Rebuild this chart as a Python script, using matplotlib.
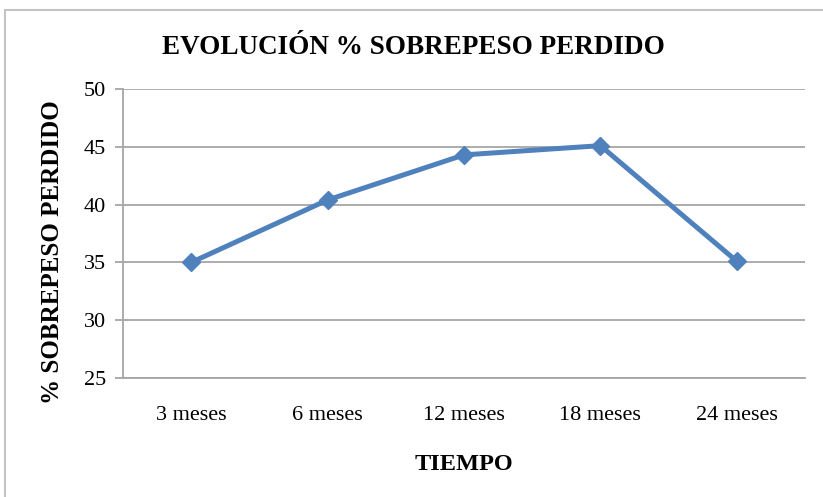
import matplotlib.pyplot as plt
import matplotlib.patches as patches

periodos = ['3 meses', '6 meses', '12 meses', '18 meses', '24 meses']
sobrepeso_perdido = [35.0, 40.4, 44.3, 45.1, 35.1]
y_ticks = [25, 30, 35, 40, 45, 50]

plt.rcParams['font.family'] = ['Liberation Serif', 'DejaVu Serif']

W, H = 823, 497
fig = plt.figure(figsize=(W / 100, H / 100), dpi=100)

# outer frame (cut off at right and bottom like the original screenshot)
frame = patches.Rectangle(
    (5 / W, -0.1), 1.2, 1.1 - 10 / H,
    transform=fig.transFigure, fill=False, edgecolor='#c4c4c4', linewidth=1.5
)
fig.add_artist(frame)

axi = fig.add_axes([123 / W, 1 - 378 / H, 682 / W, 289 / H])
x = range(len(periodos))
axi.plot(x, sobrepeso_perdido, color='#4F81BD', linewidth=3.6,
         marker='D', markersize=9.5, zorder=3)

axi.set_xlim(-0.5, len(periodos) - 0.5)
axi.set_ylim(25, 50)
axi.set_yticks(y_ticks)
axi.set_xticks(list(x))
axi.set_xticklabels(periodos)
axi.yaxis.grid(True, color='#a6a6a6', linewidth=1.3)
axi.set_axisbelow(True)

for side in ['top', 'right']:
    axi.spines[side].set_visible(False)
for side in ['left', 'bottom']:
    axi.spines[side].set_color('#a6a6a6')
    axi.spines[side].set_linewidth(1.3)

axi.tick_params(axis='y', length=6, color='#a6a6a6', width=1.3, labelsize=16, pad=6)
axi.tick_params(axis='x', length=0, labelsize=16, pad=20)

axi.set_xlabel('TIEMPO', fontsize=17.5, fontweight='bold', labelpad=21)
# y label sits a bit below the axes centre in the original
fig.text(53 / W, 1 - 252 / H, '% SOBREPESO PERDIDO', rotation=90,
         ha='center', va='center', fontsize=18, fontweight='bold')
fig.text(413 / W, 1 - 47 / H, 'EVOLUCIÓN % SOBREPESO PERDIDO',
         ha='center', va='center', fontsize=19.5, fontweight='bold')

plt.savefig('out.png', dpi=100)
plt.close(fig)
